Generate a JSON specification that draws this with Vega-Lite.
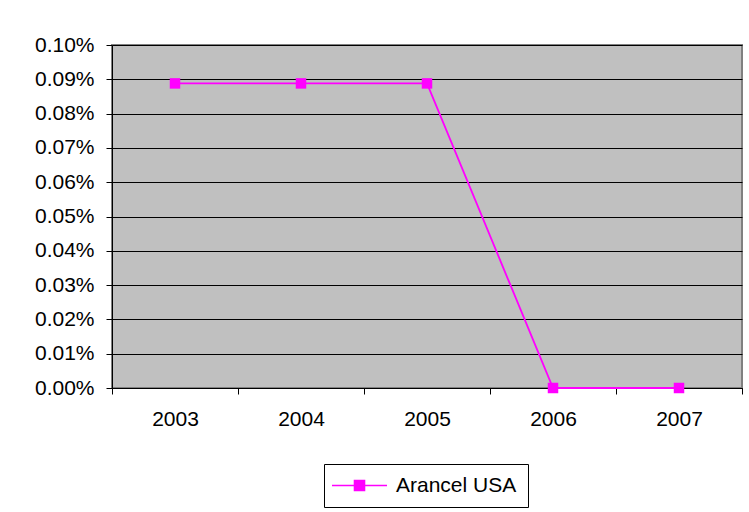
{
  "$schema": "https://vega.github.io/schema/vega-lite/v6.json",
  "width": 630,
  "height": 343,
  "autosize": {"type": "none"},
  "padding": {"left": 112, "top": 45, "right": 7, "bottom": 124},
  "background": "white",
  "config": {
    "font": "Liberation Sans",
    "view": {"fill": "#C0C0C0", "stroke": "#808080", "strokeWidth": 2}
  },
  "data": {
    "values": [
      {"year": "2003", "serie": "Arancel USA", "value": 0.000888},
      {"year": "2004", "serie": "Arancel USA", "value": 0.000888},
      {"year": "2005", "serie": "Arancel USA", "value": 0.000888},
      {"year": "2006", "serie": "Arancel USA", "value": 0.0},
      {"year": "2007", "serie": "Arancel USA", "value": 0.0}
    ]
  },
  "encoding": {
    "x": {
      "field": "year", "type": "ordinal",
      "scale": {"type": "band", "paddingInner": 0, "paddingOuter": 0},
      "axis": {
        "title": null, "labelAngle": 0, "tickBand": "extent",
        "domainColor": "black", "tickColor": "black", "tickSize": 6,
        "labelFontSize": 21, "labelColor": "black", "labelPadding": 14,
        "labelFont": "Liberation Sans", "grid": false
      }
    },
    "y": {
      "field": "value", "type": "quantitative",
      "scale": {"domain": [0, 0.001], "nice": false},
      "axis": {
        "title": null, "format": ".2%",
        "values": [0, 0.0001, 0.0002, 0.0003, 0.0004, 0.0005, 0.0006, 0.0007, 0.0008, 0.0009, 0.001],
        "grid": true, "gridColor": "black", "gridOpacity": 1, "gridWidth": 1,
        "domainColor": "black", "tickColor": "black", "tickSize": 6,
        "labelFontSize": 21, "labelColor": "black", "labelPadding": 12,
        "labelFont": "Liberation Sans"
      }
    },
    "color": {
      "field": "serie", "type": "nominal",
      "scale": {"range": ["#FF00FF"]},
      "legend": {
        "title": null, "orient": "none", "legendX": 212, "legendY": 419,
        "symbolType": "M-3,0H3M-0.55,-0.55H0.55V0.55H-0.55Z",
        "symbolSize": 336, "symbolStrokeWidth": 1.5,
        "symbolFillColor": "#FF00FF", "symbolStrokeColor": "#FF00FF",
        "symbolOffset": 14,
        "labelFontSize": 21, "labelColor": "black", "labelFont": "Liberation Sans",
        "labelOffset": 26,
        "strokeColor": "black", "fillColor": "white",
        "padding": 11
      }
    }
  },
  "layer": [
    {"mark": {"type": "line", "strokeWidth": 1.8}},
    {"mark": {"type": "square", "size": 110, "opacity": 1, "filled": true}}
  ]
}
